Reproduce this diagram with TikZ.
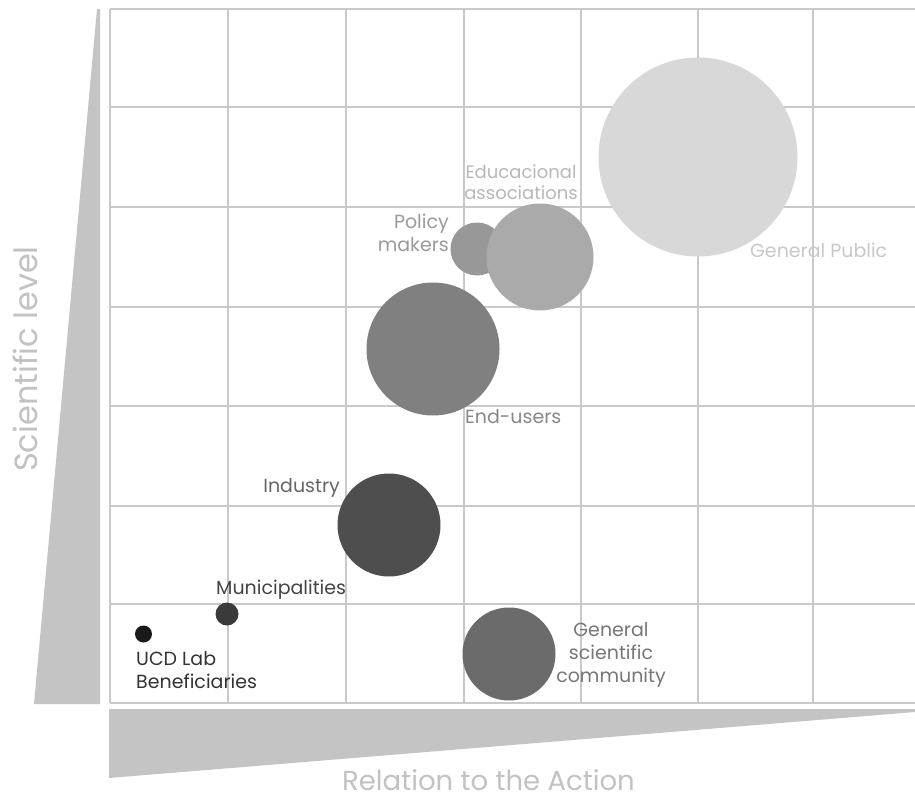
\documentclass[tikz,border=0pt]{standalone}
\usepackage{fontspec}
\setmainfont{Poppins}
\definecolor{gridc}{HTML}{C9C9C9}
\definecolor{tric}{HTML}{C4C4C4}
\definecolor{axisc}{HTML}{C2C2C2}
\tikzset{
  bub/.style={circle, inner sep=0pt, outer sep=0pt, draw=none},
  lab/.style={inner sep=0pt, font=\fontsize{19}{23}\selectfont},
  axlab/.style={inner sep=0pt, text=axisc},
  gridline/.style={draw=gridc, line width=2.6pt}
}
\begin{document}
\begin{tikzpicture}[x=1pt,y=-1pt]
\useasboundingbox[fill=white] (0,0) rectangle (915,800);
% axis wedges
\fill[tric] (97,9) -- (100,9) -- (100,704) -- (34,704) -- cycle;
\fill[tric] (109,709) -- (915,709) -- (915,712) -- (109,778) -- cycle;
% grid
\foreach \x in {110,228,346,464,581,698,813}
  \draw[gridline] (\x,9) -- (\x,703);
\foreach \y in {9,107,207,307,406,506,604,703}
  \draw[gridline] (110,\y) -- (915,\y);
% bubbles
\node[bub, fill={rgb,255:red,216;green,216;blue,216}, minimum size=199pt] (gp) at (698,157) {};
\node[bub, fill={rgb,255:red,152;green,152;blue,152}, minimum size=53pt] (pm) at (477,249) {};
\node[bub, fill={rgb,255:red,170;green,170;blue,170}, minimum size=107pt] (ea) at (540,257) {};
\node[bub, fill={rgb,255:red,128;green,128;blue,128}, minimum size=133pt] (eu) at (433,349) {};
\node[bub, fill={rgb,255:red,78;green,78;blue,78}, minimum size=103pt] (ind) at (389,525) {};
\node[bub, fill={rgb,255:red,58;green,58;blue,58}, minimum size=23pt] (mun) at (227,614) {};
\node[bub, fill={rgb,255:red,26;green,26;blue,26}, minimum size=17pt] (ucd) at (143.5,634) {};
\node[bub, fill={rgb,255:red,107;green,107;blue,107}, minimum size=93pt] (gsc) at (509,654) {};
% labels
\node[lab, text={rgb,255:red,200;green,200;blue,200}, anchor=west] (gpl) at (750,250) {General Public};
\node[lab, text={rgb,255:red,184;green,184;blue,184}, align=center, font=\fontsize{18}{21}\selectfont] (eal) at (521,182) {Educacional\\associations};
\node[lab, text={rgb,255:red,154;green,154;blue,154}, align=right, anchor=east] (pml) at (449,233) {Policy\\makers};
\node[lab, text={rgb,255:red,136;green,136;blue,136}, anchor=west] (eul) at (465,417) {End-users};
\node[lab, text={rgb,255:red,102;green,102;blue,102}, anchor=east] (indl) at (340,488) {Industry};
\node[lab, text={rgb,255:red,68;green,68;blue,68}, anchor=west] (munl) at (216,590) {Municipalities};
\node[lab, text={rgb,255:red,51;green,51;blue,51}, align=left, anchor=west] (ucdl) at (136,670) {UCD Lab\\Beneficiaries};
\node[lab, text={rgb,255:red,119;green,119;blue,119}, align=center] (gscl) at (611,655) {General\\scientific\\community};
% axis titles
\node[axlab, anchor=base west, font=\fontsize{27.5}{32}\selectfont] (xax) at (342,790) {Relation to the Action};
\node[axlab, rotate=90, font=\fontsize{32}{36}\selectfont] (yax) at (25,359) {Scientific level};
\end{tikzpicture}
\end{document}
